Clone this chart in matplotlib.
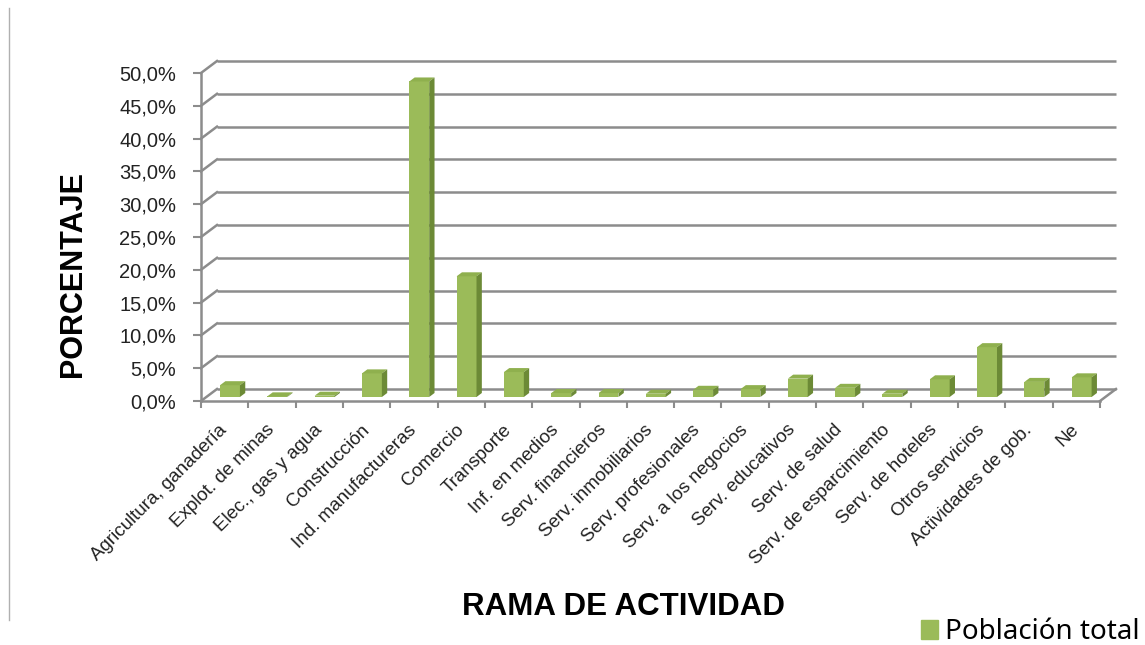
import matplotlib.pyplot as plt
import numpy as np
from matplotlib.patches import Polygon, Patch
from matplotlib.lines import Line2D

categorias = ['Agricultura, ganadería', 'Explot. de minas', 'Elec., gas y agua',
              'Construcción', 'Ind. manufactureras', 'Comercio', 'Transporte',
              'Inf. en medios', 'Serv. financieros', 'Serv. inmobiliarios',
              'Serv. profesionales', 'Serv. a los negocios', 'Serv. educativos',
              'Serv. de salud', 'Serv. de esparcimiento', 'Serv. de hoteles',
              'Otros servicios', 'Actividades de gob.', 'Ne']
poblacion_total = [1.8, 0.1, 0.2, 3.6, 48.1, 18.4, 3.8, 0.6, 0.6, 0.5,
                   1.1, 1.2, 2.8, 1.4, 0.5, 2.7, 7.6, 2.3, 3.0]
yticks = np.arange(0, 51, 5)
ytick_labels = ['{:.1f}%'.format(v).replace('.', ',') for v in yticks]

verde = '#9bbb59'
verde_top = '#8fb04e'
verde_side = '#6c8a36'
gris = '#8c8c8c'

W, H = 1145, 645
fig = plt.figure(figsize=(W / 100, H / 100), dpi=100)
ax_w, ax_h = 899, 328
ax = fig.add_axes([201 / W, 1 - 401 / H, ax_w / W, ax_h / H])
n = len(categorias)
ax.set_xlim(-0.5, n - 0.5)
ax.set_ylim(0, 50)

# depth of the 3d box, in data units
dx = 16 / (ax_w / n)
dy = 12 / (ax_h / 50)

# back wall gridlines and left wall diagonals
for v in yticks:
    ax.plot([-0.5 + dx, n - 0.5 + dx], [v + dy, v + dy], color=gris, lw=1.8,
            clip_on=False, zorder=1, solid_capstyle='butt')
    ax.plot([-0.5, -0.5 + dx], [v, v + dy], color=gris, lw=1.8,
            clip_on=False, zorder=1)
ax.plot([n - 0.5, n - 0.5 + dx], [0, dy], color=gris, lw=1.8, clip_on=False, zorder=1)

# columns: front face with top and side faces
x = np.arange(n)
w = 0.42
ax.bar(x + dx / 3, poblacion_total, width=w, bottom=dy / 3, color=verde,
       clip_on=False, zorder=3)
for xi, v in zip(x, poblacion_total):
    x0 = xi + dx / 3 - w / 2
    x1 = xi + dx / 3 + w / 2
    y0 = dy / 3
    top = [(x0, v + y0), (x1, v + y0), (x1 + dx / 3, v + 2 * y0), (x0 + dx / 3, v + 2 * y0)]
    side = [(x1, y0), (x1 + dx / 3, 2 * y0), (x1 + dx / 3, v + 2 * y0), (x1, v + y0)]
    ax.add_patch(Polygon(top, closed=True, fc=verde_top, ec='none', zorder=3, clip_on=False))
    ax.add_patch(Polygon(side, closed=True, fc=verde_side, ec='none', zorder=3, clip_on=False))

for s in ['top', 'right']:
    ax.spines[s].set_visible(False)
for s in ['left', 'bottom']:
    ax.spines[s].set_color(gris)
    ax.spines[s].set_linewidth(1.8)

ax.set_yticks(yticks)
ax.set_yticklabels(ytick_labels, fontsize=14.5, family='Liberation Sans', color='#222222')
ax.tick_params(axis='y', direction='out', length=6, width=1.5, color=gris, pad=12)

ax.set_xticks(x)
ax.set_xticklabels(categorias, rotation=45, ha='right', va='center',
                   rotation_mode='anchor', fontsize=13.5, family='Liberation Sans',
                   color='#222222')
ax.tick_params(axis='x', which='major', length=0, pad=19)
ax.set_xticks(np.arange(n + 1) - 0.5, minor=True)
ax.tick_params(axis='x', which='minor', direction='out', length=5, width=1.5, color=gris)

fig.text(73 / W, 1 - 274 / H, 'PORCENTAJE', rotation=90, ha='center', va='center',
         fontsize=22, fontweight='bold', family='Liberation Sans')
fig.text(623 / W, 1 - 607 / H, 'RAMA DE ACTIVIDAD', ha='center', va='center',
         fontsize=22.5, fontweight='bold', family='Liberation Sans')

fig.legend(handles=[Patch(color=verde)], labels=['Población total'],
           loc='center left', bbox_to_anchor=(921 / W, 1 - 632 / H), frameon=False,
           prop={'family': 'Noto Sans', 'size': 20}, handlelength=0.6,
           handleheight=0.65, handletextpad=0.25, borderpad=0, borderaxespad=0)

# chart area border on the left
fig.add_artist(Line2D([9 / W, 9 / W], [1 - 8 / H, 1 - 620 / H], color='#b0b0b0', lw=1))

fig.savefig('out.png', dpi=100)
